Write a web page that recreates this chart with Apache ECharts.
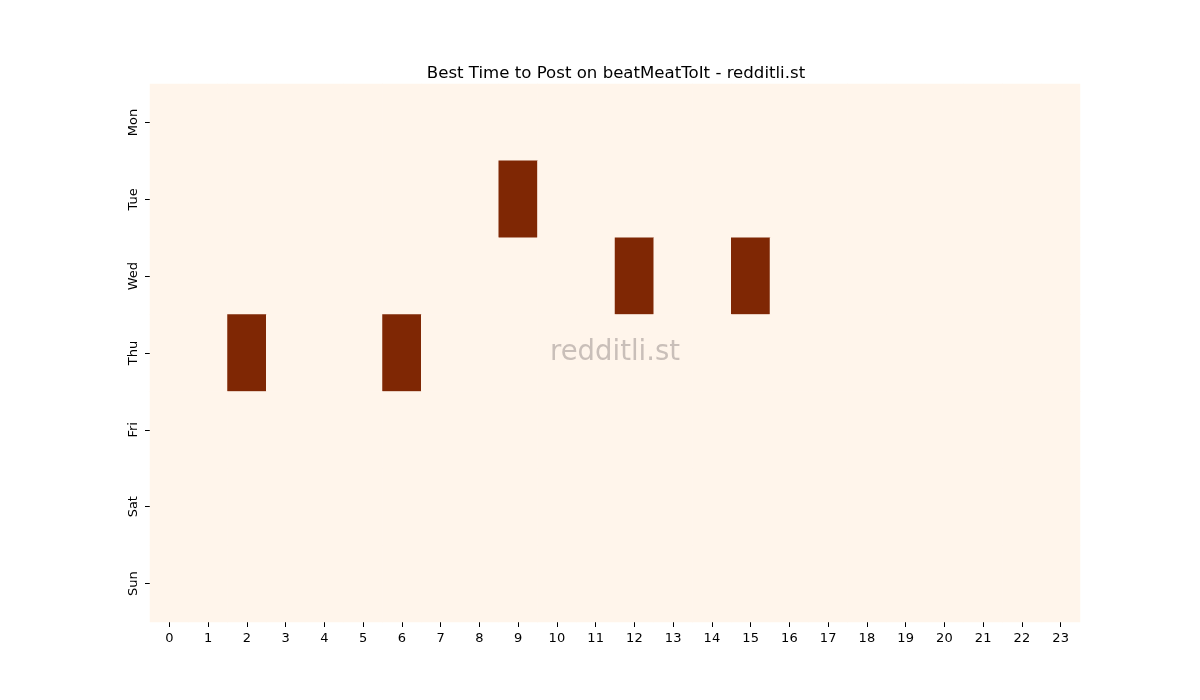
<!DOCTYPE html>
<html>
<head>
<meta charset="utf-8">
<script src="https://cdn.jsdelivr.net/npm/echarts@6/dist/echarts.min.js"></script>
<style>
  html, body { margin: 0; padding: 0; background: #fff; }
  #chart { width: 1200px; height: 700px; }
</style>
</head>
<body>
<div id="chart"></div>
<script>
var hours = ['0','1','2','3','4','5','6','7','8','9','10','11','12','13','14','15','16','17','18','19','20','21','22','23'];
var days = ['Mon','Tue','Wed','Thu','Fri','Sat','Sun'];
// [hour, day, value] - posts that scored best
var hotCells = [[9,1,1],[12,2,1],[15,2,1],[2,3,1],[6,3,1]];

// fill the rest of the grid with zero
var cells = [];
for (var d = 0; d < days.length; d++) {
  for (var h = 0; h < hours.length; h++) {
    cells.push([h, d, 0]);
  }
}
hotCells.forEach(function (c) {
  cells[c[1] * hours.length + c[0]][2] = c[2];
});

var chart = echarts.init(document.getElementById('chart'));
chart.setOption({
  animation: false,
  title: {
    text: 'Best Time to Post on beatMeatToIt - redditli.st',
    left: 611, top: 60, textAlign: 'center',
    textStyle: { fontFamily: 'DejaVu Sans', fontSize: 16.6, fontWeight: 'normal', color: '#000' }
  },
  grid: { left: 150, right: 120, top: 84, bottom: 78 },
  xAxis: {
    type: 'category', data: hours,
    axisLine: { show: true, lineStyle: { color: 'rgba(0,0,0,0)' } },
    axisTick: { show: true, alignWithLabel: true, length: 5, lineStyle: { color: '#000', width: 1 } },
    axisLabel: { color: '#000', fontFamily: 'DejaVu Sans', fontSize: 13, margin: 10 },
    splitArea: { show: false }
  },
  yAxis: {
    type: 'category', data: days, inverse: true,
    axisLine: { show: true, lineStyle: { color: 'rgba(0,0,0,0)' } },
    axisTick: { show: true, alignWithLabel: true, length: 5, lineStyle: { color: '#000', width: 1 } },
    axisLabel: { color: '#000', fontFamily: 'DejaVu Sans', fontSize: 13, rotate: 90, margin: 10 }
  },
  visualMap: {
    show: false, min: 0, max: 1,
    inRange: { color: ['#fff5eb', '#7f2704'] }
  },
  series: [{
    type: 'heatmap',
    data: cells,
    itemStyle: { borderWidth: 0 },
    emphasis: { disabled: true }
  }],
  graphic: [{
    type: 'text', left: 550, top: 339, z: 100,
    style: { text: 'redditli.st', font: '27.5px "DejaVu Sans"', fill: 'rgba(120,110,110,0.4)' }
  }]
});
</script>
</body>
</html>
